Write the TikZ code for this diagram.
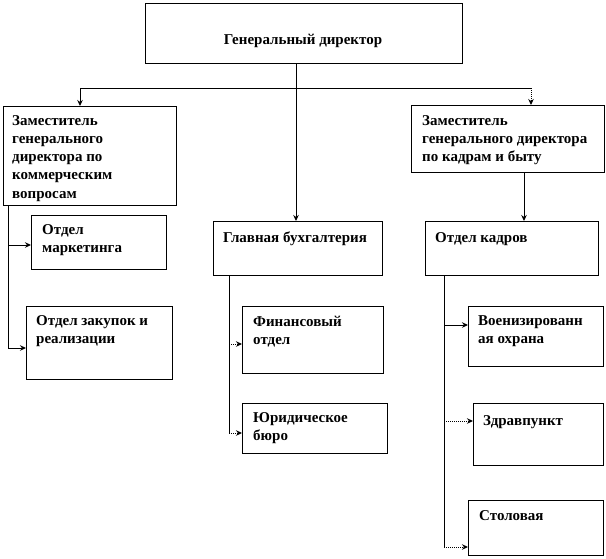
\documentclass[tikz,border=0pt]{standalone}
\usepackage{fontspec}
\setmainfont{Liberation Serif}
\usetikzlibrary{arrows.meta}
\begin{document}
\begin{tikzpicture}[x=1pt,y=-1pt,
  box/.style={draw=black, line width=0.8pt, rectangle, inner sep=0pt, anchor=north west},
  txt/.style={font=\fontsize{15}{18.3}\selectfont\bfseries, align=left, anchor=base west, inner sep=0pt},
  conn/.style={line width=1pt, draw=black},
  arr/.style={conn, -{Stealth[length=6pt,width=5.5pt]}},
  dots/.style={densely dotted}
]
\useasboundingbox (0,0) rectangle (606,558);
% boxes
\node[box, minimum width=317pt, minimum height=60pt] (gd) at (145,3) {};
\node[box, minimum width=173pt, minimum height=99pt] (zk) at (3,106) {};
\node[box, minimum width=193pt, minimum height=67pt] (zb) at (411,105) {};
\node[box, minimum width=135pt, minimum height=54pt] (mk) at (31,215) {};
\node[box, minimum width=146pt, minimum height=73pt] (zr) at (26,306) {};
\node[box, minimum width=169pt, minimum height=54pt] (gb) at (213,221) {};
\node[box, minimum width=141pt, minimum height=67pt] (fo) at (242,306) {};
\node[box, minimum width=145pt, minimum height=50pt] (yb) at (242,403) {};
\node[box, minimum width=173pt, minimum height=54pt] (ok) at (425,221) {};
\node[box, minimum width=135pt, minimum height=60pt] (vo) at (468,306) {};
\node[box, minimum width=130pt, minimum height=62pt] (zd) at (473,403) {};
\node[box, minimum width=135pt, minimum height=55pt] (st) at (468,500) {};
% texts (anchor = baseline of the last line)
\node[txt, anchor=base] (t0) at (303,44) {Генеральный директор};
\node[txt] (t1) at (12,198.2) {Заместитель\\генерального\\директора по\\коммерческим\\вопросам};
\node[txt] (t2) at (422,161.6) {Заместитель\\генерального директора\\по кадрам и быту};
\node[txt] (t3) at (42,252.3) {Отдел\\маркетинга};
\node[txt] (t4) at (36,343.3) {Отдел закупок и\\реализации};
\node[txt] (t5) at (223,242) {Главная бухгалтерия};
\node[txt] (t6) at (253,344.3) {Финансовый\\отдел};
\node[txt] (t7) at (253,440.3) {Юридическое\\бюро};
\node[txt] (t8) at (435,242) {Отдел кадров};
\node[txt] (t9) at (478,343.3) {Военизированн\\ая охрана};
\node[txt] (t10) at (483,425) {Здравпункт};
\node[txt] (t11) at (479,520) {Столовая};
% coordinates
\coordinate (hm) at (296,88);
\coordinate (hl) at (80,88);
\coordinate (hr) at (531,88);
\coordinate (kx) at (524,0);
\coordinate (l0) at (8,205);
\coordinate (l1) at (8,245);
\coordinate (l2) at (8,348);
\coordinate (b0) at (229,275);
\coordinate (b1) at (229,344);
\coordinate (b2) at (229,433);
\coordinate (o0) at (444,275);
\coordinate (o1) at (444,325);
\coordinate (o2) at (444,421);
\coordinate (o3) at (444,547);
% connectors
\draw[arr] (hm |- gd.south) -- (hm |- gb.north);
\draw[conn] (hl) -- (hr);
\draw[arr] (hl) -- (hl |- zk.north);
\draw[arr, dots] (hr) -- (hr |- zb.north);
\draw[arr] (kx |- zb.south) -- (kx |- ok.north);
\draw[conn] (l0) -- (l2);
\draw[arr] (l1) -- (l1 -| mk.west);
\draw[arr] (l2) -- (l2 -| zr.west);
\draw[conn] (b0) -- (b2);
\draw[arr, dots] (b1) -- (b1 -| fo.west);
\draw[arr, dots] (b2) -- (b2 -| yb.west);
\draw[conn] (o0) -- (o3);
\draw[arr] (o1) -- (o1 -| vo.west);
\draw[arr, dots] (o2) -- (o2 -| zd.west);
\draw[arr, dots] (o3) -- (o3 -| st.west);
\end{tikzpicture}
\end{document}
